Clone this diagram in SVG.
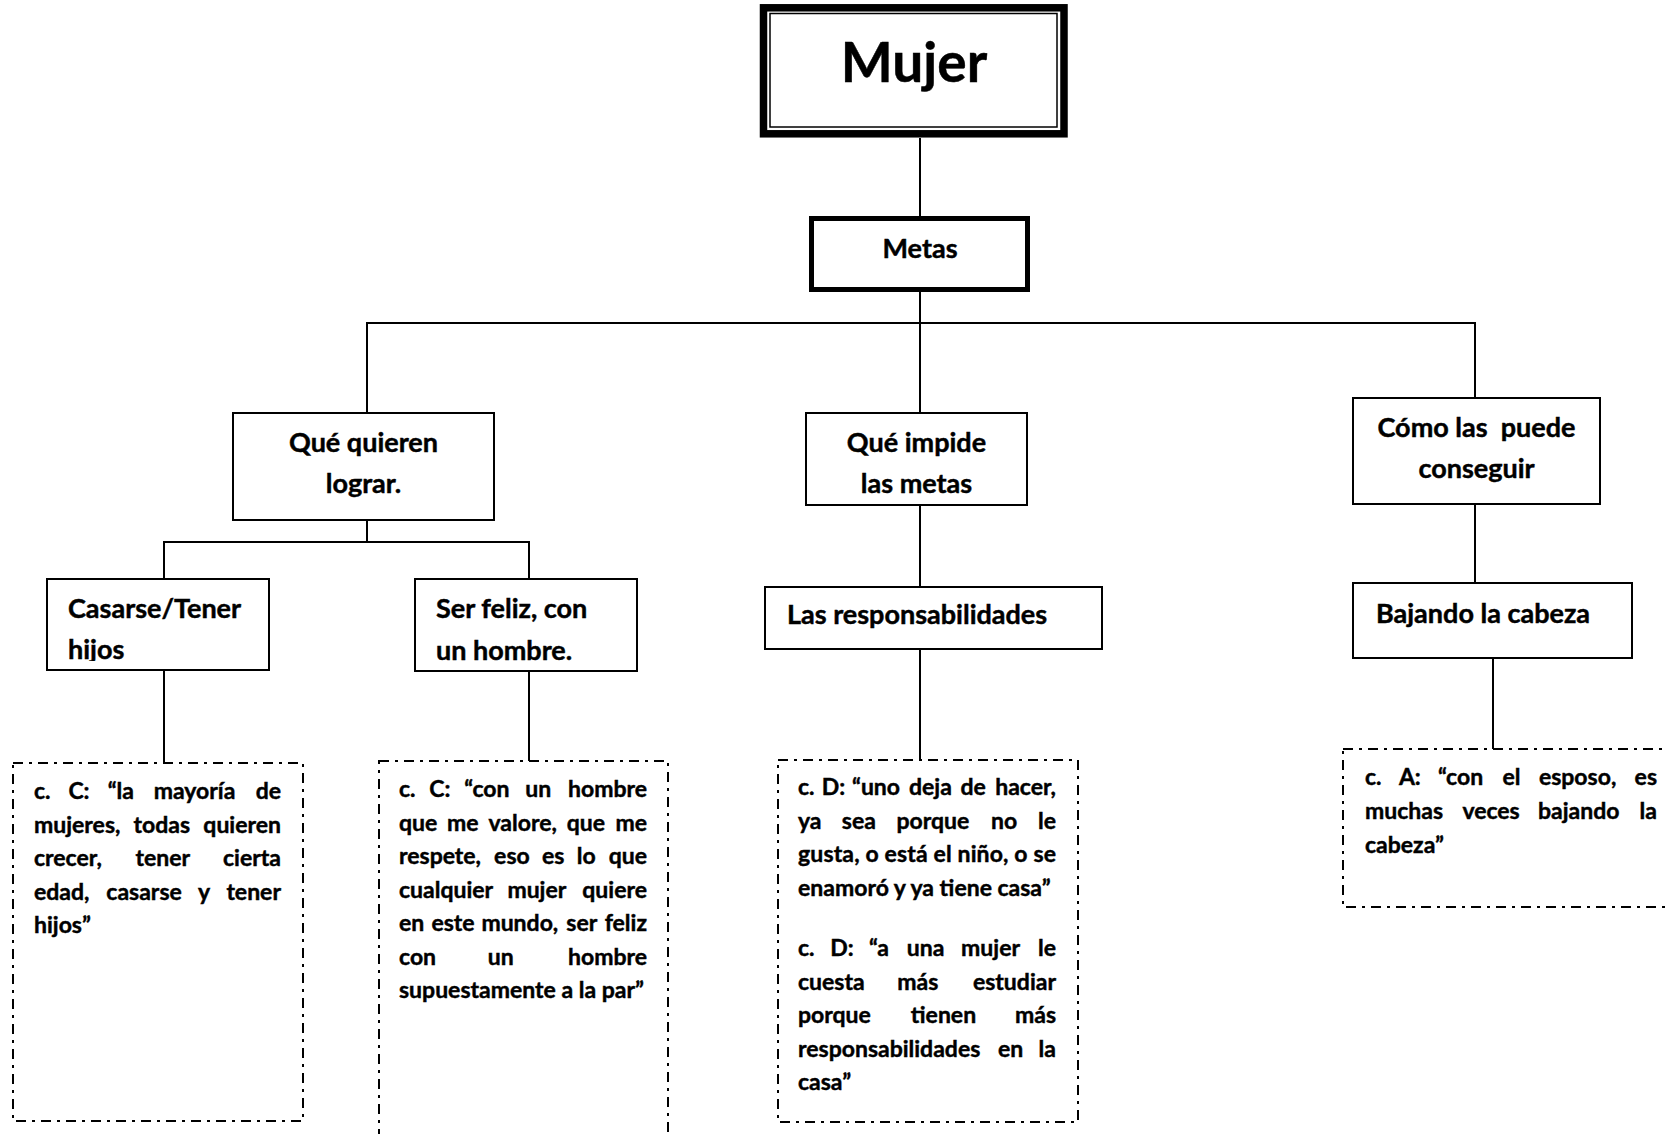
<svg xmlns="http://www.w3.org/2000/svg" width="1666" height="1134" viewBox="0 0 1666 1134">
<style>
.box{fill:#fff;stroke:#000;stroke-width:2}
.dash{fill:none;stroke:#000;stroke-width:2;stroke-dasharray:10 6 3 6}
#connectors line{stroke:#000;stroke-width:2}
text{font-family:Lato,"Open Sans","DejaVu Sans",sans-serif;font-weight:700;fill:#000;stroke:#000;stroke-width:0.45px}
.t{font-size:27px}
.q{font-size:23px}
.c{text-anchor:middle}
.e{text-anchor:end}
</style>
<defs>
<clipPath id="clipHijos"><rect x="47" y="579" width="222" height="82"/></clipPath>
</defs>
<rect width="1666" height="1134" fill="#fff"/>
<g id="connectors">
<line x1="920" y1="138" x2="920" y2="216"/>
<line x1="920" y1="292" x2="920" y2="323"/>
<line x1="366" y1="323" x2="1476" y2="323"/>
<line x1="367" y1="323" x2="367" y2="413"/>
<line x1="920" y1="323" x2="920" y2="413"/>
<line x1="1475" y1="323" x2="1475" y2="398"/>
<line x1="367" y1="520" x2="367" y2="542"/>
<line x1="163" y1="542" x2="530" y2="542"/>
<line x1="164" y1="542" x2="164" y2="579"/>
<line x1="529" y1="542" x2="529" y2="579"/>
<line x1="164" y1="670" x2="164" y2="763"/>
<line x1="529" y1="671" x2="529" y2="761"/>
<line x1="920" y1="505" x2="920" y2="587"/>
<line x1="920" y1="649" x2="920" y2="760"/>
<line x1="1475" y1="504" x2="1475" y2="583"/>
<line x1="1493" y1="658" x2="1493" y2="749"/>
</g>
<g id="mujer">
<rect x="763.5" y="7.8" width="300.5" height="126" fill="#fff" stroke="#000" stroke-width="7.5"/>
<rect x="770" y="13.5" width="287" height="113.5" fill="none" stroke="#000" stroke-width="1.5"/>
<text x="914" y="82" class="c" font-size="55">Mujer</text>
</g>
<g id="metas">
<rect x="811.5" y="218.5" width="216" height="71" fill="#fff" stroke="#000" stroke-width="5"/>
<text x="920" y="258" class="t c">Metas</text>
</g>
<g id="que-quieren">
<rect class="box" x="233" y="413" width="261" height="107"/>
<text x="363.5" y="452" class="t c">Qué quieren</text>
<text x="363.5" y="493" class="t c">lograr.</text>
</g>
<g id="que-impide">
<rect class="box" x="806" y="413" width="221" height="92"/>
<text x="916.5" y="452" class="t c">Qué impide</text>
<text x="916.5" y="493" class="t c">las metas</text>
</g>
<g id="como">
<rect class="box" x="1353" y="398" width="247" height="106"/>
<text x="1476.5" y="437" class="t c">Cómo las&#160; puede</text>
<text x="1476.5" y="478" class="t c">conseguir</text>
</g>
<g id="casarse">
<rect class="box" x="47" y="579" width="222" height="91"/>
<text x="68" y="618" class="t">Casarse/Tener</text>
<text x="68" y="659" class="t" clip-path="url(#clipHijos)">hijos</text>
</g>
<g id="ser-feliz">
<rect class="box" x="415" y="579" width="222" height="92"/>
<text x="436" y="618" class="t">Ser feliz, con</text>
<text x="436" y="660" class="t">un hombre.</text>
</g>
<g id="responsabilidades">
<rect class="box" x="765" y="587" width="337" height="62"/>
<text x="787" y="624" class="t">Las responsabilidades</text>
</g>
<g id="bajando">
<rect class="box" x="1353" y="583" width="279" height="75"/>
<text x="1376" y="623" class="t">Bajando la cabeza</text>
</g>
<g id="cita-casarse">
<rect class="dash" x="13" y="763" width="290" height="358"/>
<text class="q" y="799"><tspan x="34">c.</tspan><tspan x="68.4">C:</tspan><tspan x="107.7">“la</tspan><tspan x="153.7">mayoría</tspan></text>
<text class="q e" x="281" y="799">de</text>
<text class="q" y="833"><tspan x="34">mujeres,</tspan><tspan x="133.6">todas</tspan></text>
<text class="q e" x="281" y="833">quieren</text>
<text class="q" y="866"><tspan x="34">crecer,</tspan><tspan x="135.6">tener</tspan></text>
<text class="q e" x="281" y="866">cierta</text>
<text class="q" y="900"><tspan x="34">edad,</tspan><tspan x="106.3">casarse</tspan><tspan x="198">y</tspan></text>
<text class="q e" x="281" y="900">tener</text>
<text class="q" x="34" y="933">hijos”</text>
</g>
<g id="cita-ser-feliz">
<rect class="dash" x="379" y="761" width="289" height="400"/>
<text class="q" y="797"><tspan x="399">c.</tspan><tspan x="429.2">C:</tspan><tspan x="464.3">“con</tspan><tspan x="525.3">un</tspan></text>
<text class="q e" x="647" y="797">hombre</text>
<text class="q" y="830.5"><tspan x="399">que</tspan><tspan x="447.1">me</tspan><tspan x="488.5">valore,</tspan><tspan x="566.8">que</tspan></text>
<text class="q e" x="647" y="830.5">me</text>
<text class="q" y="864"><tspan x="399">respete,</tspan><tspan x="494.1">eso</tspan><tspan x="542">es</tspan><tspan x="576.7">lo</tspan></text>
<text class="q e" x="647" y="864">que</text>
<text class="q" y="897.5"><tspan x="399">cualquier</tspan><tspan x="507.4">mujer</tspan></text>
<text class="q e" x="647" y="897.5">quiere</text>
<text class="q" y="931"><tspan x="399">en</tspan><tspan x="431.4">este</tspan><tspan x="481.4">mundo,</tspan><tspan x="566.3">ser</tspan></text>
<text class="q e" x="647" y="931">feliz</text>
<text class="q" y="964.5"><tspan x="399">con</tspan><tspan x="487.8">un</tspan></text>
<text class="q e" x="647" y="964.5">hombre</text>
<text class="q" x="399" y="998">supuestamente a la par”</text>
</g>
<g id="cita-responsabilidades">
<rect class="dash" x="778" y="760" width="300" height="362"/>
<text class="q" y="795"><tspan x="798">c.</tspan><tspan x="821.7">D:</tspan><tspan x="852">“uno</tspan><tspan x="909">deja</tspan><tspan x="960.4">de</tspan></text>
<text class="q e" x="1056" y="795">hacer,</text>
<text class="q" y="828.5"><tspan x="798">ya</tspan><tspan x="841.8">sea</tspan><tspan x="896.4">porque</tspan><tspan x="991">no</tspan></text>
<text class="q e" x="1056" y="828.5">le</text>
<text class="q" x="798" y="862" textLength="258" lengthAdjust="spacing">gusta, o está el niño, o se</text>
<text class="q" x="798" y="895.5">enamoró y ya tiene casa”</text>
<text class="q" y="956"><tspan x="798">c.</tspan><tspan x="830.2">D:</tspan><tspan x="868.9">“a</tspan><tspan x="906.7">una</tspan><tspan x="961.1">mujer</tspan></text>
<text class="q e" x="1056" y="956">le</text>
<text class="q" y="989.5"><tspan x="798">cuesta</tspan><tspan x="897.3">más</tspan></text>
<text class="q e" x="1056" y="989.5">estudiar</text>
<text class="q" y="1023"><tspan x="798">porque</tspan><tspan x="910.8">tienen</tspan></text>
<text class="q e" x="1056" y="1023">más</text>
<text class="q" y="1056.5"><tspan x="798">responsabilidades</tspan><tspan x="997.9">en</tspan></text>
<text class="q e" x="1056" y="1056.5">la</text>
<text class="q" x="798" y="1090">casa”</text>
</g>
<g id="cita-bajando">
<rect class="dash" x="1343" y="749" width="340" height="158"/>
<text class="q" y="784.5"><tspan x="1365">c.</tspan><tspan x="1398.9">A:</tspan><tspan x="1437.9">“con</tspan><tspan x="1502.5">el</tspan><tspan x="1538.9">esposo,</tspan></text>
<text class="q e" x="1657" y="784.5">es</text>
<text class="q" y="818.5"><tspan x="1365">muchas</tspan><tspan x="1462.4">veces</tspan><tspan x="1538">bajando</tspan></text>
<text class="q e" x="1657" y="818.5">la</text>
<text class="q" x="1365" y="852.5">cabeza”</text>
</g>
</svg>
